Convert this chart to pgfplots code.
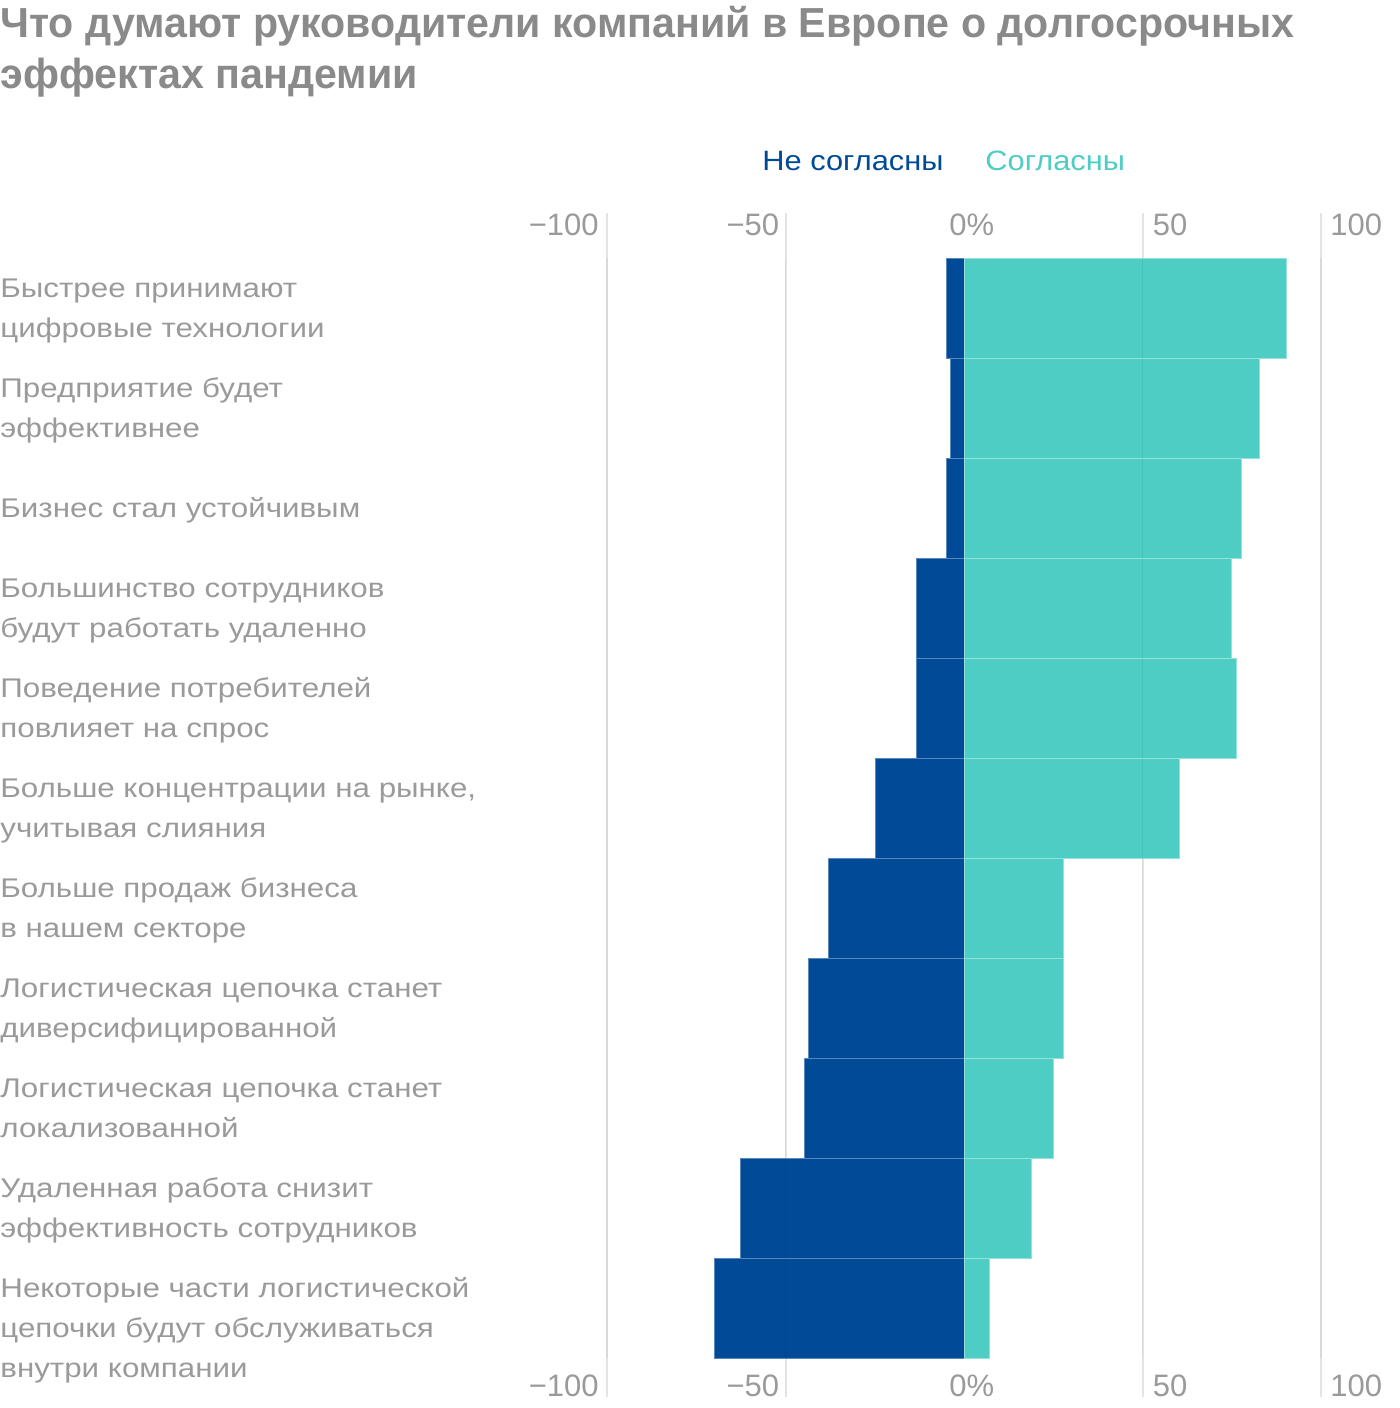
\documentclass[border=0pt]{standalone}
\usepackage{pgfplots}
\pgfplotsset{compat=1.18}
\usepackage{fontspec}
\setmainfont{Liberation Sans}
\newfontfamily\titlefont[FakeStretch=0.98]{Liberation Sans}
\newfontfamily\labfont[FakeStretch=1.16]{Liberation Sans}
\newfontfamily\legfont[FakeStretch=1.1]{Liberation Sans}
\definecolor{dblue}{HTML}{004A98}
\definecolor{tealc}{HTML}{4ECDC4}
\definecolor{lab}{HTML}{9A9A9A}
\definecolor{ttl}{HTML}{8A8A8A}
\definecolor{gridc}{HTML}{E4E4E4}
\newcommand{\lbl}[2]{\node[anchor=base west, inner sep=0, text=lab, font=\labfont\fontsize{13.5pt}{16pt}\selectfont] at (0pt,-#1pt) {#2};}
\begin{document}
\begin{tikzpicture}
\useasboundingbox (0pt,0pt) rectangle (700pt,-704pt);
% title
\node[anchor=base west, inner sep=0, text=ttl, font=\titlefont\bfseries\fontsize{21pt}{25pt}\selectfont] at (0pt,-18.5pt) {Что думают руководители компаний в Европе о долгосрочных};
\node[anchor=base west, inner sep=0, text=ttl, font=\titlefont\bfseries\fontsize{21pt}{25pt}\selectfont] at (0pt,-44pt) {эффектах пандемии};
% legend
\node[anchor=base west, inner sep=0, text=dblue, font=\legfont\fontsize{14pt}{17pt}\selectfont] at (381pt,-85pt) {Не согласны};
\node[anchor=base west, inner sep=0, text=tealc, font=\legfont\fontsize{14pt}{17pt}\selectfont] at (492.5pt,-85pt) {Согласны};
% category labels
\lbl{148.5}{Быстрее принимают}
\lbl{168.5}{цифровые технологии}
\lbl{198.5}{Предприятие будет}
\lbl{218.5}{эффективнее}
\lbl{258.5}{Бизнес стал устойчивым}
\lbl{298.5}{Большинство сотрудников}
\lbl{318.5}{будут работать удаленно}
\lbl{348.5}{Поведение потребителей}
\lbl{368.5}{повлияет на спрос}
\lbl{398.5}{Больше концентрации на рынке,}
\lbl{418.5}{учитывая слияния}
\lbl{448.5}{Больше продаж бизнеса}
\lbl{468.5}{в нашем секторе}
\lbl{498.5}{Логистическая цепочка станет}
\lbl{518.5}{диверсифицированной}
\lbl{548.5}{Логистическая цепочка станет}
\lbl{568.5}{локализованной}
\lbl{598.5}{Удаленная работа снизит}
\lbl{618.5}{эффективность сотрудников}
\lbl{648.5}{Некоторые части логистической}
\lbl{668.5}{цепочки будут обслуживаться}
\lbl{688.5}{внутри компании}
\begin{axis}[
  at={(303.5pt,-106.5pt)}, anchor=north west,
  scale only axis, width=357pt, height=592pt,
  xmin=-100, xmax=100, ymin=0.05, ymax=11.89,
  y dir=reverse, hide axis, clip=false,
  xbar, bar width=1, bar shift=0pt,
]
\draw[gridc, line width=1pt] (axis cs:-100,0.05) -- (axis cs:-100,11.89);
\draw[gridc, line width=1pt] (axis cs:-50,0.05) -- (axis cs:-50,11.89);
\draw[gridc, line width=1pt] (axis cs:50,0.05) -- (axis cs:50,11.89);
\draw[gridc, line width=1pt] (axis cs:100,0.05) -- (axis cs:100,11.89);
\addplot[fill=dblue, draw=dblue!65!white, line width=0.5pt] coordinates {
(-5.0,1) (-3.9,2) (-5.0,3) (-13.2,4) (-13.2,5) (-24.9,6) (-37.9,7) (-43.5,8) (-44.6,9) (-62.7,10) (-69.8,11)};
\addplot[fill=tealc, draw=tealc!60!white, line width=0.5pt] coordinates {
(90.2,1) (82.9,2) (77.6,3) (74.8,4) (76.2,5) (60.5,6) (27.8,7) (27.8,8) (25.1,9) (19.0,10) (7.1,11)};
\draw[black, opacity=0.05, line width=0.8pt] (axis cs:-100,0.5) -- (axis cs:-100,11.5);
\draw[black, opacity=0.05, line width=0.8pt] (axis cs:-50,0.5) -- (axis cs:-50,11.5);
\draw[black, opacity=0.05, line width=0.8pt] (axis cs:50,0.5) -- (axis cs:50,11.5);
\draw[black, opacity=0.05, line width=0.8pt] (axis cs:100,0.5) -- (axis cs:100,11.5);
\tikzset{tl/.style={inner sep=0, text=lab, font=\fontsize{15.5pt}{18pt}\selectfont}}
\node[tl, anchor=north east, xshift=-4pt] at (axis cs:-100,0.05) {−100};
\node[tl, anchor=north east, xshift=-3pt] at (axis cs:-50,0.05) {−50};
\node[tl, anchor=north west, xshift=-7.5pt] at (axis cs:0,0.05) {0\%};
\node[tl, anchor=north west, xshift=5pt] at (axis cs:50,0.05) {50};
\node[tl, anchor=north west, xshift=4.5pt] at (axis cs:100,0.05) {100};
\node[tl, anchor=south east, xshift=-4pt] at (axis cs:-100,11.89) {−100};
\node[tl, anchor=south east, xshift=-3pt] at (axis cs:-50,11.89) {−50};
\node[tl, anchor=south west, xshift=-7.5pt] at (axis cs:0,11.89) {0\%};
\node[tl, anchor=south west, xshift=5pt] at (axis cs:50,11.89) {50};
\node[tl, anchor=south west, xshift=4.5pt] at (axis cs:100,11.89) {100};
\end{axis}
\end{tikzpicture}
\end{document}
